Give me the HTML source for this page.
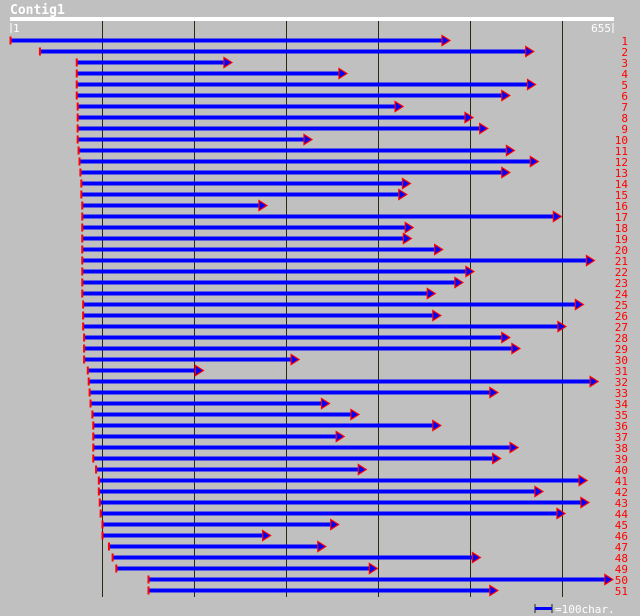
<!DOCTYPE html>
<html><head><meta charset="utf-8"><style>
html,body{margin:0;padding:0;background:#c0c0c0;}
svg{display:block;}
text{font-family:"DejaVu Sans Mono","Liberation Mono",monospace;}
</style></head><body>
<svg id="chart" width="640" height="616" xmlns="http://www.w3.org/2000/svg">
<rect width="640" height="616" fill="#c0c0c0"/>
<text x="10" y="14" fill="#fff" font-size="13" font-weight="bold">Contig1</text>
<rect x="10" y="17" width="604" height="4" fill="#fff"/>
<g id="grid"></g>
<line x1="11" y1="23" x2="11" y2="33" stroke="#fff"/>
<text x="13" y="32" fill="#fff" font-size="11">1</text>
<text x="611" y="32" fill="#fff" font-size="11" text-anchor="end">655</text>
<line x1="613" y1="23" x2="613" y2="33" stroke="#fff"/>
<g id="reads"></g>
<g>
<line x1="535" y1="604" x2="535" y2="613" stroke="#222" stroke-width="1"/>
<line x1="552" y1="604" x2="552" y2="613" stroke="#222" stroke-width="1"/>
<rect x="535" y="607" width="17" height="3" fill="#0000ff"/>
<text x="555" y="613" fill="#fff" font-size="11">=100char.</text>
</g>
</svg>
<script>
const readLabels = Array.from({length:51},(_, i)=>String(i+1));
const readStarts = [1,33,73,73,73,73,74,74,74,74,75,76,77,78,78,79,79,79,79,79,79,79,79,79,80,80,80,81,81,81,85,86,87,88,90,91,91,91,91,94,97,97,98,99,101,101,108,112,116,151,151];
const readEnds = [476,567,239,364,569,541,425,501,517,326,546,572,541,433,429,277,597,436,434,468,633,502,490,460,621,466,602,541,552,312,208,637,528,345,377,466,361,550,531,385,625,577,627,601,355,281,341,509,397,653,528];
const gridTicks = [100,200,300,400,500,600];

const NS="http://www.w3.org/2000/svg";
const xScale = c => 10 + (c-1)*0.92;
const yScale = i => 40 + i*11;
const grid=document.getElementById('grid');
gridTicks.forEach(t=>{
  const l=document.createElementNS(NS,'line');
  const x=Math.round(xScale(t+1))+0.5;
  l.setAttribute('x1',x);l.setAttribute('x2',x);
  l.setAttribute('y1',21);l.setAttribute('y2',597);
  l.setAttribute('stroke','#2a2a10');l.setAttribute('stroke-width','1');
  
  
  grid.appendChild(l);
});
const reads=document.getElementById('reads');
readStarts.forEach((s,i)=>{
  const e=readEnds[i], y=yScale(i);
  const x1=xScale(s), x2=xScale(e);
  const g=document.createElementNS(NS,'g');
  
  
  const r=document.createElementNS(NS,'rect');
  r.setAttribute('x',x1);r.setAttribute('y',y-1.5);
  r.setAttribute('width',x2-x1);r.setAttribute('height',4);
  r.setAttribute('fill','#0000ff');
  g.appendChild(r);
  const t=document.createElementNS(NS,'rect');
  t.setAttribute('x',x1-0.5);t.setAttribute('y',y-3.5);
  t.setAttribute('width',2);t.setAttribute('height',8);
  t.setAttribute('fill','#ff0000');
  g.appendChild(t);
  const p=document.createElementNS(NS,'polygon');
  p.setAttribute('points',`${x2-5},${y-4.5} ${x2+3},${y+0.5} ${x2-5},${y+5.5}`);
  p.setAttribute('fill','#0000ff');p.setAttribute('stroke','#ff0000');p.setAttribute('stroke-width','1.2');
  g.appendChild(p);
  const lb=document.createElementNS(NS,'text');
  lb.setAttribute('x',628);lb.setAttribute('y',y+5);
  lb.setAttribute('text-anchor','end');lb.setAttribute('fill','#ff0000');lb.setAttribute('font-size','11');
  lb.textContent=readLabels[i];
  
  
  g.appendChild(lb);
  reads.appendChild(g);
});
</script>
</body></html>
